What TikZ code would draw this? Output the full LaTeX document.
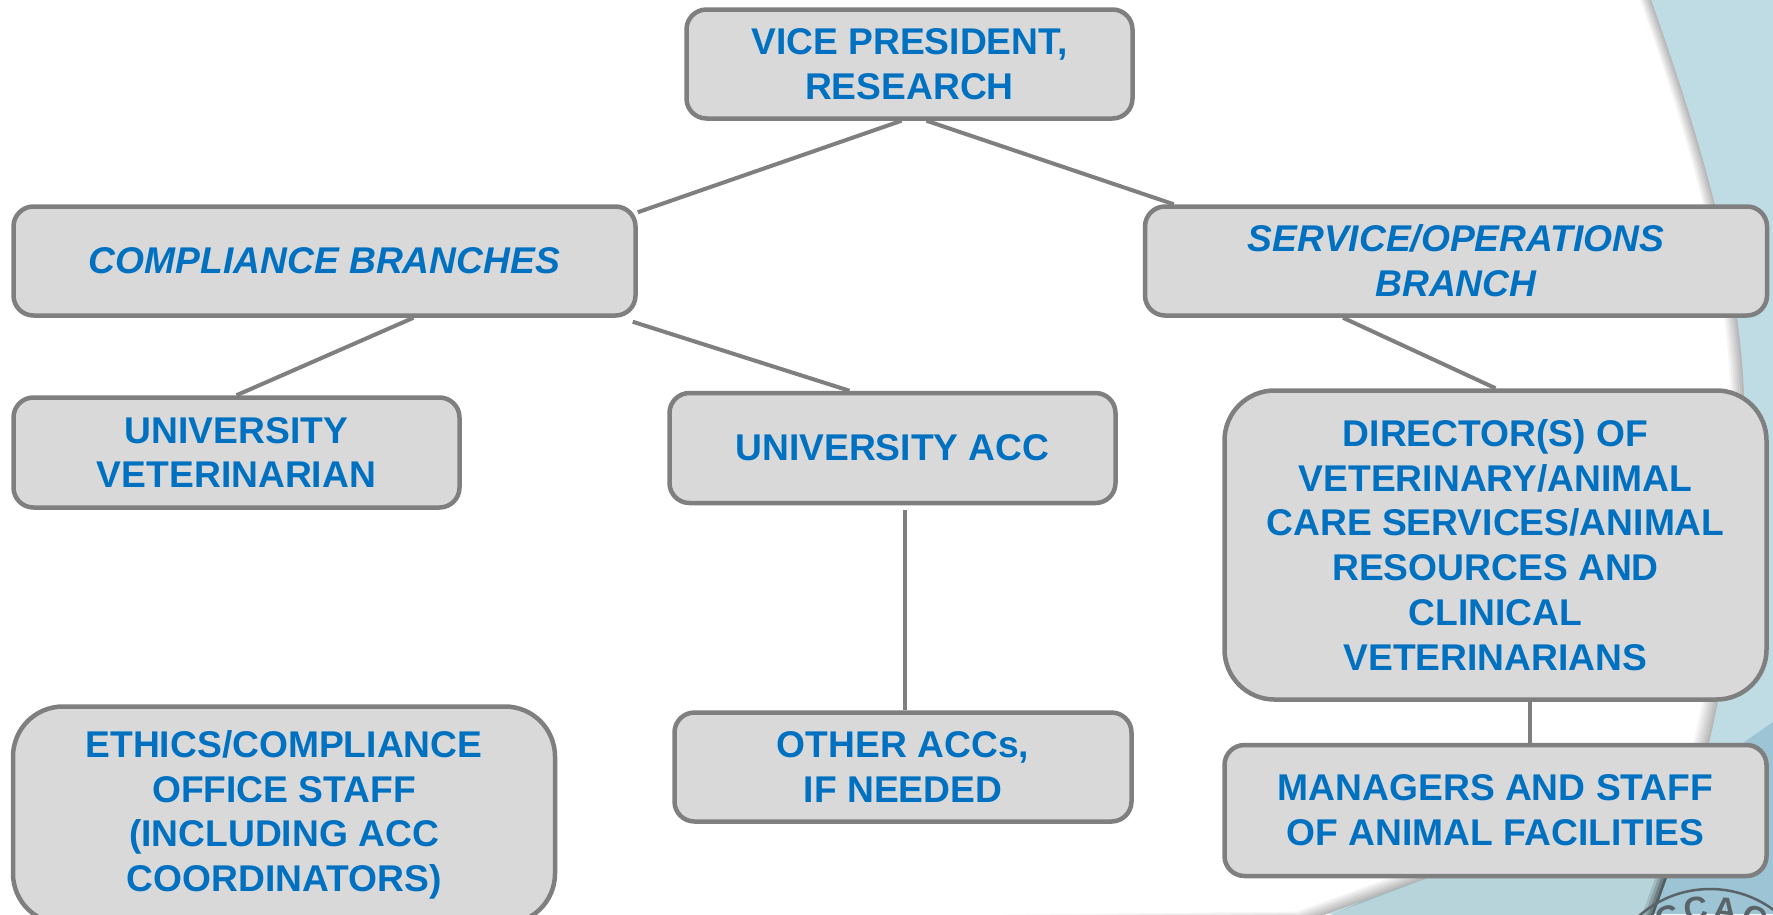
\documentclass[tikz,border=0pt]{standalone}
\usepackage{fontspec}
\setmainfont{Liberation Sans}
\usepackage{tikz}

\definecolor{boxgray}{HTML}{D9D9D9}
\definecolor{linegray}{HTML}{7F7F7F}
\definecolor{textblue}{HTML}{0070C0}
\definecolor{bgblue}{HTML}{BFDBE4}
\definecolor{deepblue}{HTML}{9DC4D4}
\definecolor{bandblue}{HTML}{B7D4DB}
\definecolor{logogray}{HTML}{5A6468}

\tikzset{
	orgbox/.style={draw=linegray, line width=4.5pt, fill=boxgray, rounded corners=20pt, align=center, text=textblue, inner sep=0pt, font=\fontsize{37.2}{44.7}\selectfont\bfseries},
	bigbox/.style={orgbox, rounded corners=50pt},
	orgline/.style={draw=linegray, line width=4pt},
	logotext/.style={font=\fontsize{33}{33}\selectfont\bfseries, text=logogray, inner sep=0pt}
}

\begin{document}
\begin{tikzpicture}[x=1pt, y=-1pt]
	\useasboundingbox (0, 0) rectangle (1773, 914);

	\fill [bgblue] (0, 0) rectangle (1773, 914);
	\fill [deepblue] (1773, 722) -- (1740, 745) -- (1650, 878) -- (1640, 914) -- (1773, 914) -- cycle;

	\foreach \s/\c in {0/55, 3/40, 6/25, 9/12} {
		\fill [black!\c!bandblue, shift={(-\s, 0)}] (1712, 743) -- (1667, 878) -- (1647, 934) -- (1300, 934) -- cycle;
	}
	\fill [bandblue] (1700, 775) -- (1655, 878) -- (1635, 934) -- (1280, 934) -- cycle;

	\foreach \s/\c in {0/28, 2/24, 4/20, 6/16, 8/12, 10/8, 12/4, 14/0} {
		\fill [black!\c!white, shift={(-\s, -\s * 0.6)}] (0, -20) -- (1644, -20)
			.. controls (1705, 150) and (1750, 300) .. (1744, 450)
			.. controls (1742, 560) and (1727, 680) .. (1700, 779)
			-- (1310, 920) -- (0, 934) -- cycle;
	}

	\node [orgbox, minimum width=446, minimum height=109] (vp) at (909.5, 64) {VICE PRESIDENT,\\RESEARCH};
	\node [orgbox, minimum width=622, minimum height=109] (comp) at (324.5, 261) {\itshape COMPLIANCE BRANCHES};
	\node [orgbox, minimum width=622, minimum height=109] (serv) at (1456, 261) {\itshape SERVICE/OPERATIONS\\\itshape BRANCH};
	\node [orgbox, minimum width=446, minimum height=110] (vet) at (236.5, 452.5) {UNIVERSITY\\VETERINARIAN};
	\node [orgbox, minimum width=446, minimum height=110] (acc) at (892.5, 448) {UNIVERSITY ACC};
	\node [bigbox, minimum width=542, minimum height=309] (dir) at (1495.5, 545) {DIRECTOR(S) OF\\VETERINARY/ANIMAL\\CARE SERVICES/ANIMAL\\RESOURCES AND\\CLINICAL\\VETERINARIANS};
	\node [bigbox, minimum width=542, minimum height=217] (ethics) at (284, 815) {ETHICS/COMPLIANCE\\OFFICE STAFF\\(INCLUDING ACC\\COORDINATORS)};
	\node [orgbox, minimum width=457, minimum height=109] (other) at (903, 767) {OTHER ACCs,\\IF NEEDED};
	\node [orgbox, minimum width=542, minimum height=131] (mgr) at (1495.5, 810.5) {MANAGERS AND STAFF\\OF ANIMAL FACILITIES};

	\draw [orgline] ([xshift=-8pt]vp.south) -- ([yshift=-8pt]comp.north east);
	\draw [orgline] ([xshift=17pt]vp.south) -- ([xshift=31pt]serv.north west);
	\draw [orgline] ([xshift=89pt]comp.south) -- (vet.north);
	\draw [orgline] ([xshift=-5pt, yshift=-4pt]comp.south east) -- ([xshift=-43pt]acc.north);
	\draw [orgline] ([xshift=12.5pt, yshift=-5pt]acc.south) -- ([xshift=2pt]other.north);
	\draw [orgline] ([xshift=-113pt]serv.south) -- (dir.north);
	\draw [orgline] ([xshift=34pt]dir.south) -- ([xshift=34pt]mgr.north);

	\draw [line width=2.5pt, draw=logogray] (1710, 996) circle (107);
	\node [logotext, rotate=20] (c1) at (1668, 918) {C};
	\node [logotext, rotate=7] (c2) at (1696, 909) {C};
	\node [logotext, rotate=-6] (c3) at (1726, 909) {A};
	\node [logotext, rotate=-20] (c4) at (1755, 918) {C};
\end{tikzpicture}
\end{document}
